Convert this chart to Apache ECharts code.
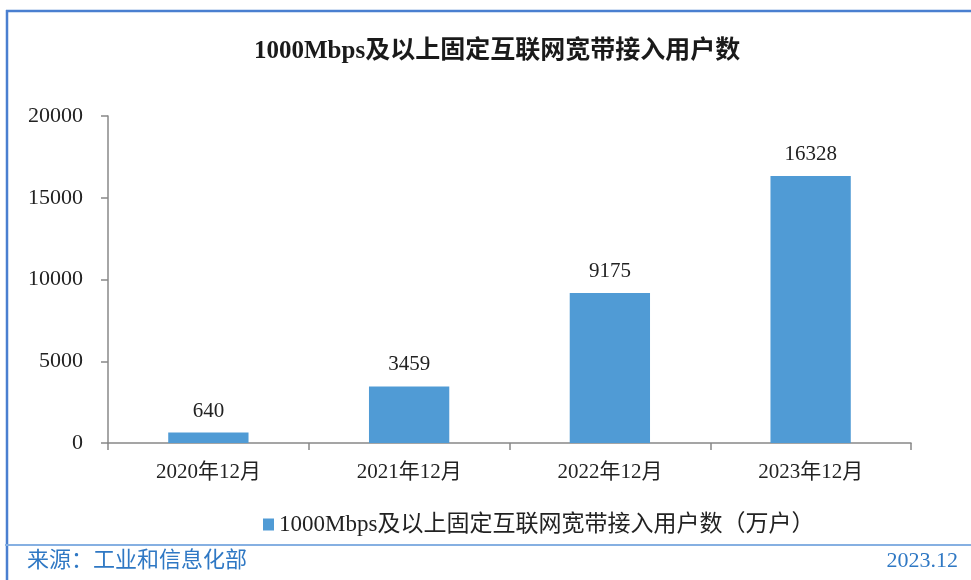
<!DOCTYPE html>
<html>
<head>
<meta charset="utf-8">
<script src="https://cdn.jsdelivr.net/npm/echarts@6/dist/echarts.min.js"></script>
<style>
  html, body { margin: 0; padding: 0; background: #fff; }
  #chart { width: 971px; height: 580px; }
</style>
</head>
<body>
<div id="chart"></div>
<script>
const categories = ['2020年12月', '2021年12月', '2022年12月', '2023年12月']
const users = [640, 3459, 9175, 16328]
const seriesName = '1000Mbps及以上固定互联网宽带接入用户数（万户）'
const titleText = '1000Mbps及以上固定互联网宽带接入用户数'
const sourceText = '来源：工业和信息化部'
const dateText = '2023.12'

const serif = '"Liberation Serif", "Times New Roman", "Noto Sans CJK SC", serif'

const option = {
    animation: false,
    textStyle: { fontFamily: serif },
    title: {
        text: titleText,
        left: 249,
        top: 34,
        textStyle: { fontFamily: serif, fontSize: 25, fontWeight: 'bold', color: '#1a1a1a' }
    },
    legend: {
        data: [seriesName],
        left: 258,
        top: 508,
        itemWidth: 11,
        itemHeight: 12,
        itemGap: 6,
        icon: 'rect',
        textStyle: { fontFamily: serif, fontSize: 23, color: '#222' }
    },
    grid: { left: 108, right: 60, top: 116, bottom: 137 },
    xAxis: {
        type: 'category',
        data: categories,
        axisLine: { lineStyle: { color: '#888', width: 1.5 } },
        axisTick: { show: true, length: 7, lineStyle: { color: '#888', width: 1.5 } },
        axisLabel: { fontFamily: serif, fontSize: 21, color: '#222', margin: 19 }
    },
    yAxis: {
        type: 'value',
        min: 0,
        max: 20000,
        interval: 5000,
        axisLine: { show: true, lineStyle: { color: '#888', width: 1.5 } },
        axisTick: { show: true, length: 7, lineStyle: { color: '#888', width: 1.5 } },
        splitLine: { show: false },
        axisLabel: { fontFamily: serif, fontSize: 22, color: '#222', margin: 25, formatter: v => String(v) }
    },
    series: [
        {
            name: seriesName,
            type: 'bar',
            data: users,
            barWidth: '40%',
            itemStyle: { color: '#509BD5' },
            label: {
                show: true,
                position: 'top',
                distance: 11,
                fontFamily: serif,
                fontSize: 21,
                color: '#222'
            }
        }
    ],
    graphic: [
        { type: 'line', shape: { x1: 6, y1: 11, x2: 971, y2: 11 }, style: { stroke: '#4a7fd0', lineWidth: 2.5 } },
        { type: 'line', shape: { x1: 7, y1: 10, x2: 7, y2: 580 }, style: { stroke: '#4a7fd0', lineWidth: 2.5 } },
        { type: 'line', shape: { x1: 5, y1: 545, x2: 971, y2: 545 }, style: { stroke: '#86b0e2', lineWidth: 2 } },
        { type: 'text', left: 27, top: 550, style: { text: sourceText, fontFamily: serif, fontSize: 22, fill: '#2f78c4' } },
        { type: 'text', right: 13, top: 550, style: { text: dateText, fontFamily: serif, fontSize: 22, fill: '#2f78c4' } }
    ]
}

const chart = echarts.init(document.getElementById('chart'))
chart.setOption(option)
</script>
</body>
</html>
